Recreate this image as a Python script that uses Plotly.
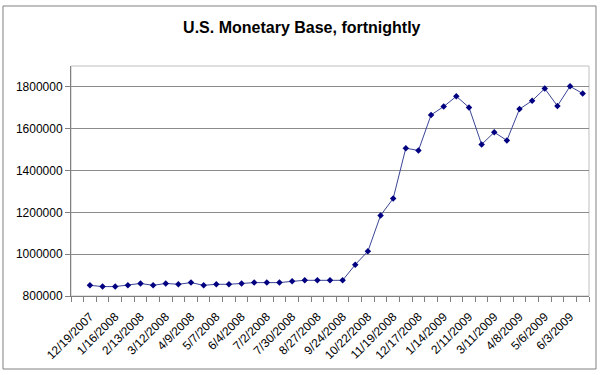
import plotly.graph_objects as go

dates = ["12/19/2007", "1/2/2008", "1/16/2008", "1/30/2008", "2/13/2008", "2/27/2008",
         "3/12/2008", "3/26/2008", "4/9/2008", "4/23/2008", "5/7/2008", "5/21/2008",
         "6/4/2008", "6/18/2008", "7/2/2008", "7/16/2008", "7/30/2008", "8/13/2008",
         "8/27/2008", "9/10/2008", "9/24/2008", "10/8/2008", "10/22/2008", "11/5/2008",
         "11/19/2008", "12/3/2008", "12/17/2008", "12/31/2008", "1/14/2009", "1/28/2009",
         "2/11/2009", "2/25/2009", "3/11/2009", "3/25/2009", "4/8/2009", "4/22/2009",
         "5/6/2009", "5/20/2009", "6/3/2009", "6/17/2009"]

base = [851000, 845000, 845000, 851000, 860000, 851000,
        860000, 856000, 864000, 851000, 856000, 856000,
        860000, 864000, 864000, 864000, 870000, 875000,
        875000, 875000, 875000, 950000, 1014000, 1185000,
        1266000, 1507000, 1496000, 1666000, 1706000, 1755000,
        1702000, 1525000, 1583000, 1544000, 1694000, 1734000,
        1792000, 1709000, 1803000, 1768000]

y_ticks = [800000, 1000000, 1200000, 1400000, 1600000, 1800000]

idx = list(range(len(dates)))
label_idx = idx[::2]
label_txt = [dates[i] for i in label_idx]

fig = go.Figure()
fig.add_trace(go.Scatter(
    x=idx, y=base, mode="lines+markers",
    line=dict(color="#3a4596", width=1),
    marker=dict(symbol="diamond", size=5, color="#000080"),
    hoverinfo="x+y", showlegend=False,
))

font = "Arial, 'Liberation Sans', sans-serif"
fig.update_layout(
    width=600, height=375,
    margin=dict(l=71, r=11, t=66, b=79, autoexpand=False),
    paper_bgcolor="white", plot_bgcolor="white",
    title=dict(text="<b>U.S. Monetary Base, fortnightly</b>", x=0.503, xanchor="center",
               y=0.928, yanchor="middle", font=dict(family=font, size=16, color="black")),
    font=dict(family=font, size=12, color="black"),
    xaxis=dict(
        range=[-1.5, 39.5], tickmode="array", tickvals=label_idx, ticktext=label_txt,
        tickangle=-45, ticks="", showgrid=False, zeroline=False, automargin=False,
        ticklabelstandoff=8,
        showline=True, linecolor="#808080", linewidth=1,
        tickfont=dict(family=font, size=12, color="black"),
        minor=dict(tickmode="linear", tick0=-0.5, dtick=1, ticks="outside",
                   ticklen=5, tickcolor="#808080", showgrid=False),
    ),
    yaxis=dict(
        range=[800000, 1900000], tickmode="array", tickvals=y_ticks,
        ticktext=[str(v) for v in y_ticks], automargin=False,
        ticks="outside", ticklen=5, tickcolor="#808080",
        showgrid=True, gridcolor="#8c8c8c", gridwidth=1, zeroline=False,
        showline=True, linecolor="#808080", linewidth=1,
        tickfont=dict(family=font, size=12, color="black"),
    ),
    shapes=[
        dict(type="rect", xref="paper", yref="paper", x0=0, x1=1, y0=0, y1=1,
             line=dict(color="#c0c0c0", width=1), layer="below"),
        dict(type="rect", xref="paper", yref="paper",
             x0=-0.1313, x1=1.0135, y0=-0.3174, y1=1.2609,
             line=dict(color="#808080", width=1), layer="above"),
    ],
)

fig.write_html("out.html", config={"displayModeBar": False},
               post_script="document.body.style.margin='0';document.body.style.overflow='hidden';")
